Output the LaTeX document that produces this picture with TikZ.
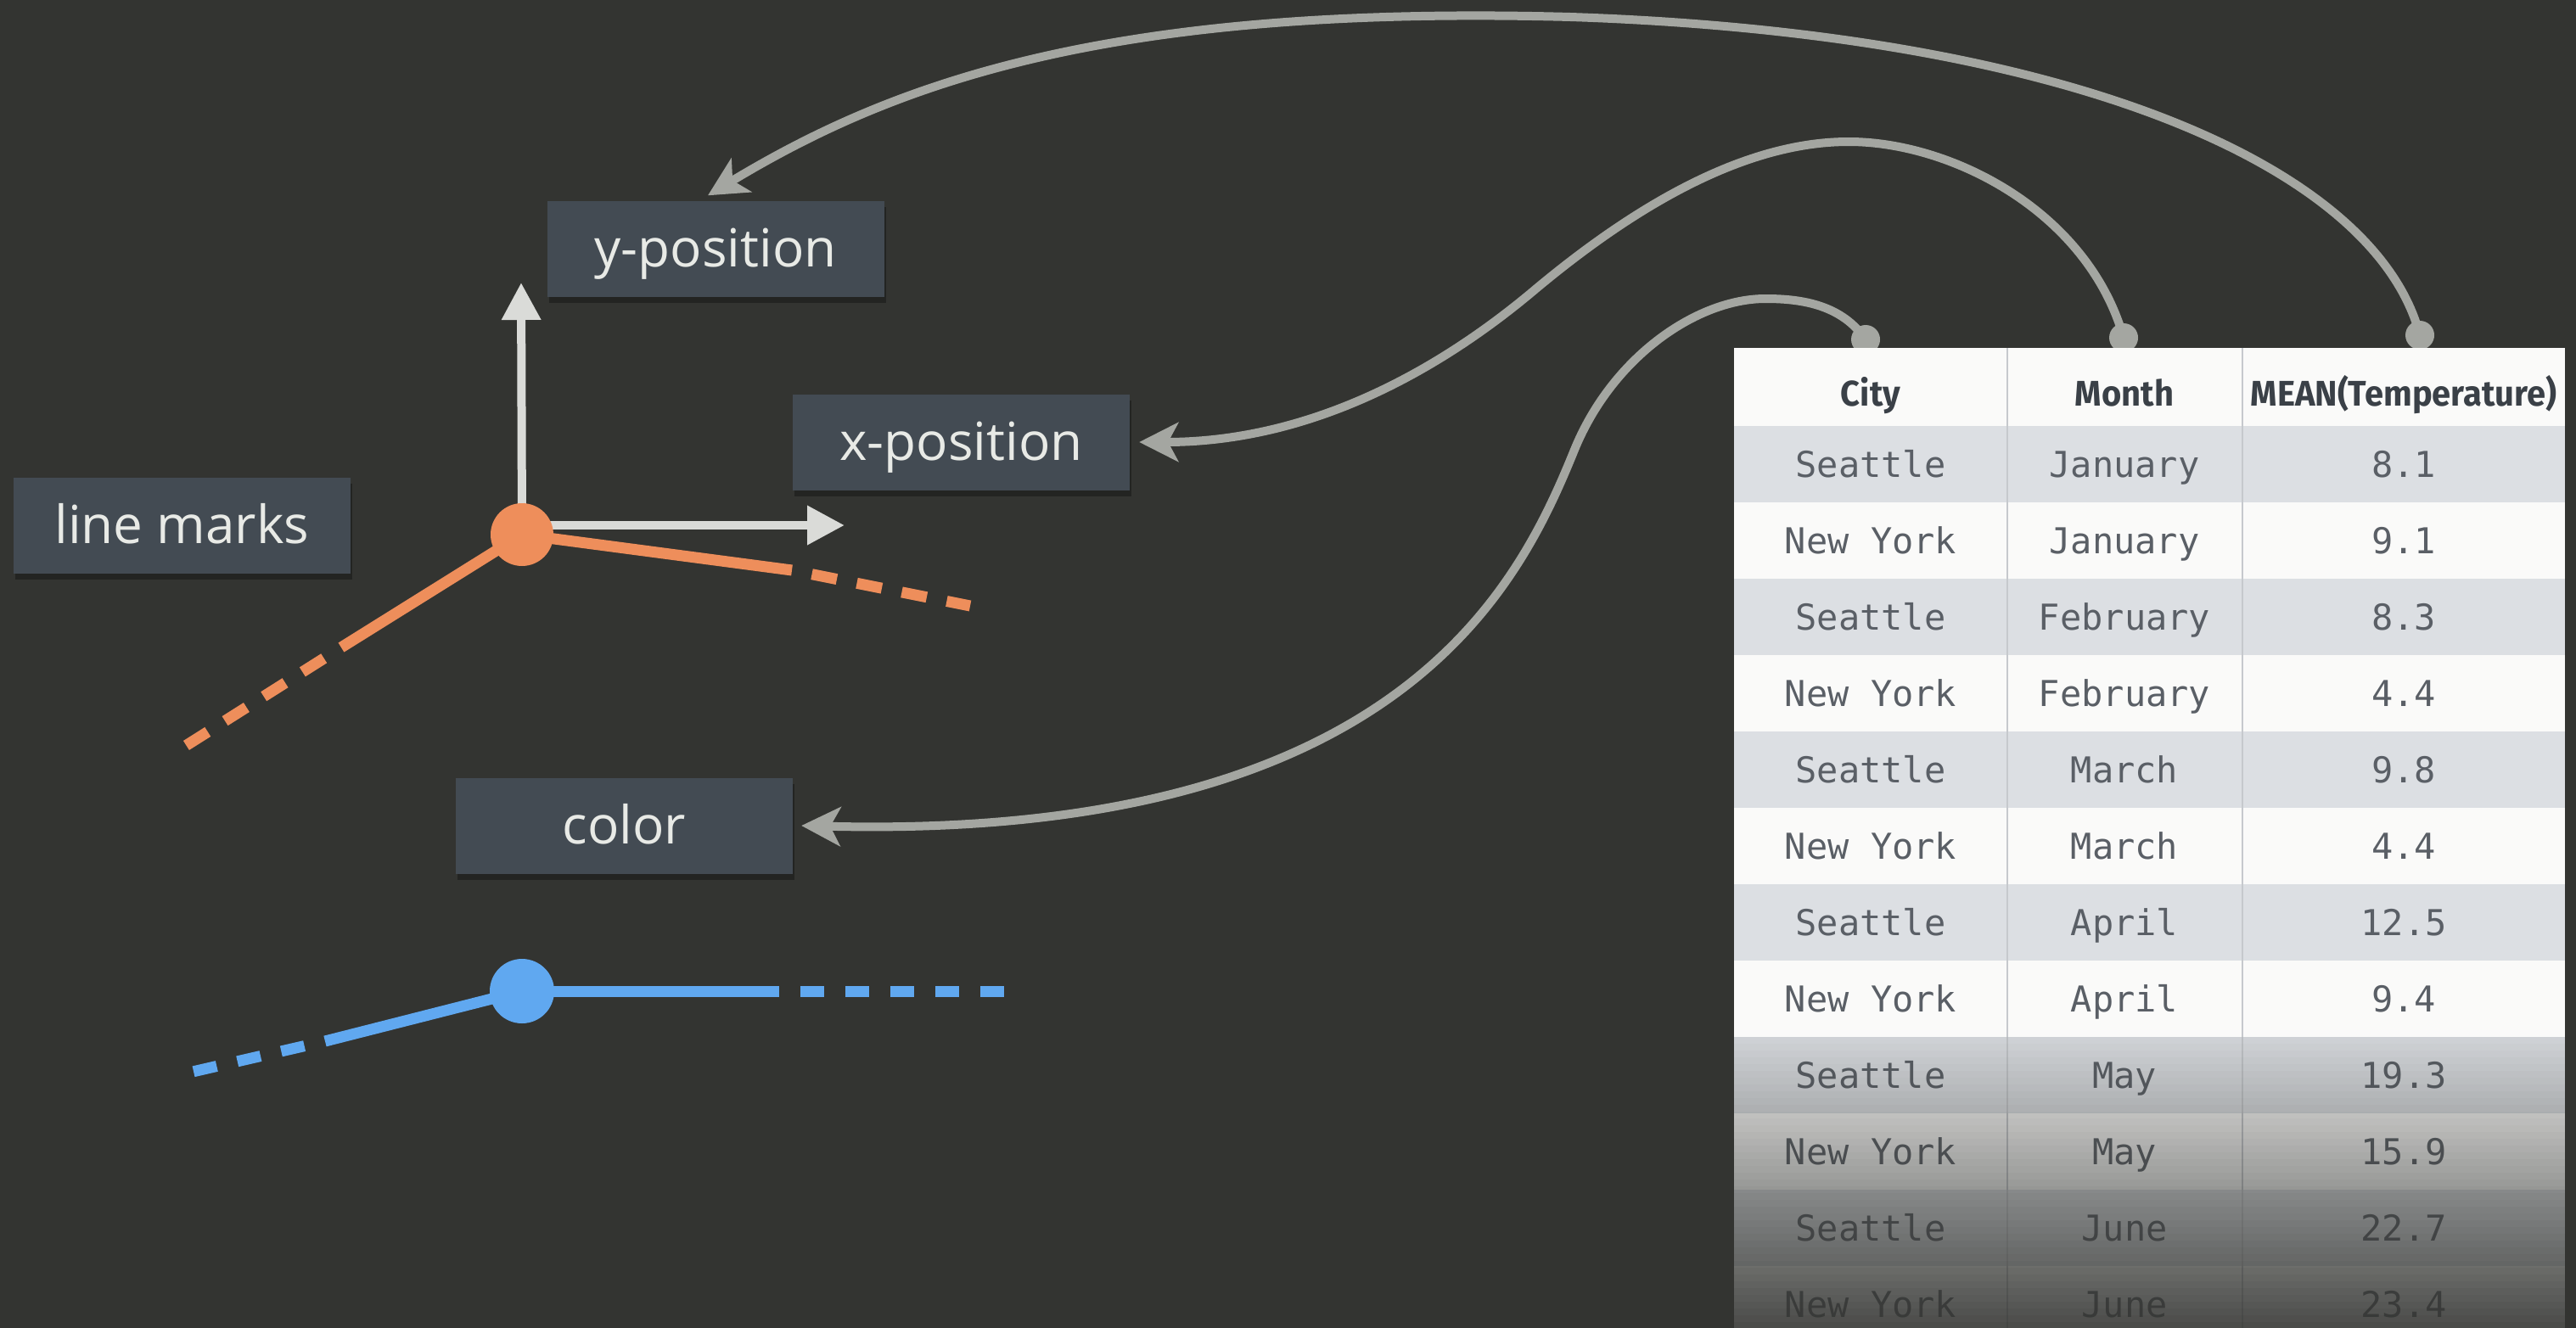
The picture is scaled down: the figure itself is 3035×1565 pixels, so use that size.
\documentclass[tikz,border=0pt]{standalone}
\usepackage{fontspec}
\usetikzlibrary{arrows.meta,shadows,calc}
\newfontfamily\labfont{Open Sans}
\newfontfamily\headfont{Fira Sans}[FakeStretch=0.95]
\newfontfamily\cellfont{DejaVu Sans Mono}
\definecolor{bgc}{HTML}{333431}
\definecolor{boxc}{HTML}{434B53}
\definecolor{labtxt}{HTML}{E8EAE6}
\definecolor{connc}{HTML}{A4A6A1}
\definecolor{axc}{HTML}{DADBD8}
\definecolor{orc}{HTML}{EE8E5B}
\definecolor{blc}{HTML}{60A8F0}
\definecolor{rowgray}{HTML}{DCDFE3}
\definecolor{rowwhite}{HTML}{FAFAF9}
\definecolor{headtxt}{HTML}{3A4047}
\definecolor{celltxt}{HTML}{5A5F66}
\definecolor{gridc}{HTML}{C6C9CD}
\begin{document}
\begin{tikzpicture}[x=1pt,y=-1pt,
  lab/.style={fill=boxc, text=labtxt, minimum width=397pt, minimum height=113pt,
    inner sep=0pt, text height=42pt, text depth=0pt,
    font=\labfont\fontsize{62}{64}\selectfont,
    drop shadow={shadow xshift=2pt, shadow yshift=-7pt, opacity=0.3, fill=black}},
  conn/.style={draw=connc, line width=10pt, -{Stealth[length=46pt, width=46pt, inset=12pt]}},
  cdot/.style={circle, fill=connc, minimum size=32pt, inner sep=0pt},
  axisarrow/.style={draw=axc, line width=10pt, -{Triangle[length=44pt, width=44pt]}},
  olin/.style={draw=orc, line width=13pt},
  blin/.style={draw=blc, line width=13pt},
  odash/.style={dash pattern=on 30pt off 24pt, dash phase=30pt},
  bdash/.style={dash pattern=on 28pt off 25pt, dash phase=28pt},
  mdot/.style={circle, minimum size=73pt, inner sep=0pt},
  headcell/.style={anchor=base, text=headtxt, font=\headfont\bfseries\fontsize{42}{44}\selectfont},
  cell/.style={anchor=base, text=celltxt, font=\cellfont\fontsize{42}{44}\selectfont}
]
\useasboundingbox (0,0) rectangle (3035,1565);
\clip (0,0) rectangle (3035,1565);
\fill[bgc] (0,0) rectangle (3035,1565);

% label boxes
\node[lab] (ypos) at (843,293) {y-position};
\node[lab] (xpos) at (1132.5,521) {x-position};
\node[lab] (lmarks) at (214.5,619.5) {line marks};
\node[lab] (colorbox) at (735.5,973) {color};

% axes and line marks
\node[mdot] (odot) at (615,630) {};
\node[mdot] (bdot) at (615,1168) {};
\coordinate (ytop) at (614,333);
\coordinate (xright) at (995,619);
\coordinate (olsolid) at (402,763);
\coordinate (olend) at (217,880);
\coordinate (orsolid) at (933,672);
\coordinate (orend) at (1143,714);
\coordinate (blsolid) at (383,1227);
\coordinate (blend) at (227,1263);
\coordinate (brsolid) at (918,1168);
\coordinate (brend) at (1188,1168);

\draw[axisarrow] (odot.center |- xright) -- (xright);
\draw[axisarrow] (odot.center) -- (ytop);
\draw[olin] (odot.center) -- (olsolid);
\draw[olin, odash] (olsolid) -- (olend);
\draw[olin] (odot.center) -- (orsolid);
\draw[olin, odash] (orsolid) -- (orend);
\fill[orc] (odot) circle (37pt);

\draw[blin] (bdot.center) -- (blsolid);
\draw[blin, bdash] (blsolid) -- (blend);
\draw[blin] (bdot.center) -- (brsolid);
\draw[blin, bdash] (brsolid) -- (brend);
\fill[blc] (bdot) circle (38pt);

% connectors
\node[cdot] (d1) at (2198,400) {};
\node[cdot] (d2) at (2502,398) {};
\node[cdot] (d3) at (2851,395) {};
\coordinate (ytip) at ([xshift=-9pt,yshift=6pt]ypos.north);
\coordinate (xtip) at ([xshift=11pt]xpos.east);
\coordinate (ctip) at ([xshift=10pt]colorbox.east);

\draw[conn] (d3.center) .. controls (2800,200) and (2450,40) .. (1850,20)
  .. controls (1300,5) and (1050,100) .. (ytip);
\draw[conn] (d2.center) .. controls (2460,250) and (2300,167) .. (2178,167)
  .. controls (2080,167) and (1960,215) .. (1810,340)
  .. controls (1680,450) and (1530,521) .. (xtip);
\draw[conn] (d1.center) .. controls (2170,360) and (2125,352) .. (2080,352)
  .. controls (2000,352) and (1900,420) .. (1855,530)
  .. controls (1790,690) and (1650,990) .. (ctip);
\fill[connc] (d1) circle (17pt);
\fill[connc] (d2) circle (17pt);
\fill[connc] (d3) circle (17pt);

% table
\fill[rowwhite] (2043,410) rectangle (3022,502);
\node[headcell] (hcity) at (2204,478) {City};
\node[headcell] (hmonth) at (2503,478) {Month};
\node[headcell] (htemp) at (2832,478) {MEAN(Temperature)};
\foreach [count=\r] \ci/\mo/\te in {
  Seattle/January/8.1, New York/January/9.1, Seattle/February/8.3,
  New York/February/4.4, Seattle/March/9.8, New York/March/4.4,
  Seattle/April/12.5, New York/April/9.4, Seattle/May/19.3,
  New York/May/15.9, Seattle/June/22.7, New York/June/23.4} {
  \pgfmathsetmacro\ytop{502+90*(\r-1)}
  \ifodd\r
    \fill[rowgray] (2043,\ytop) rectangle (3022,\ytop+90);
  \else
    \fill[rowwhite] (2043,\ytop) rectangle (3022,\ytop+90);
  \fi
  \node[cell] (city-\r) at (2204,\ytop+60) {\ci};
  \node[cell] (month-\r) at (2503,\ytop+60) {\mo};
  \node[cell] (temp-\r) at (2832,\ytop+60) {\te};
}
\draw[gridc, line width=1.5pt] (2365,410) -- (2365,1565);
\draw[gridc, line width=1.5pt] (2642,410) -- (2642,1565);
% fade of the table bottom
\foreach \i in {0,...,43} {
  \pgfmathsetmacro\op{0.08+\i*0.019}
  \fill[bgc, opacity=\op] (2040,1222+\i*8) rectangle (3025,1230+\i*8);
}
\end{tikzpicture}
\end{document}
